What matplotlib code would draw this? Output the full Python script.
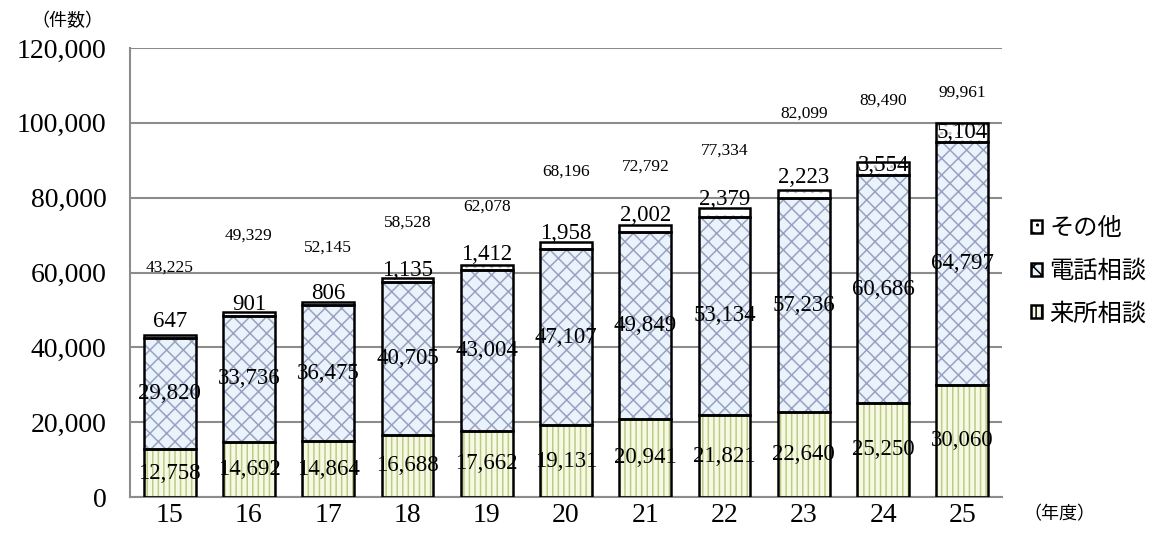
import matplotlib
matplotlib.use('Agg')
import matplotlib.pyplot as plt
from matplotlib.patches import Patch
import numpy as np

plt.rcParams['font.family'] = ['Liberation Serif', 'Noto Sans CJK JP', 'DejaVu Sans']
plt.rcParams['hatch.linewidth'] = 1.1

# データ
years = ['15', '16', '17', '18', '19', '20', '21', '22', '23', '24', '25']
raisho = [12758, 14692, 14864, 16688, 17662, 19131, 20941, 21821, 22640, 25250, 30060]
denwa = [29820, 33736, 36475, 40705, 43004, 47107, 49849, 53134, 57236, 60686, 64797]
sonota = [647, 901, 806, 1135, 1412, 1958, 2002, 2379, 2223, 3554, 5104]
totals = [43225, 49329, 52145, 58528, 62078, 68196, 72792, 77334, 82099, 89490, 99961]
# 合計ラベルの高さ（件数の目盛りで）
total_label_y = [61300, 69900, 66700, 73300, 77600, 86900, 88300, 92500, 102400, 105900, 108000]
# その他ラベルの持ち上げ量(px)
other_lift = [15, 10, 10, 10, 13, 12, 13, 13, 16, 3, 0]

x = np.arange(len(years))
w = 0.655
raisho = np.array(raisho)
denwa = np.array(denwa)
sonota = np.array(sonota)

fig = plt.figure(figsize=(11.57, 5.42), dpi=100)
ax = fig.add_axes([0.1124, 0.083, 0.7536, 0.8284])

# 塗り＋模様
ax.bar(x, raisho, w, color='#f7fae2', edgecolor='#bccb8a', hatch='|||', linewidth=0, zorder=2)
ax.bar(x, denwa, w, bottom=raisho, color='#eaf3fb', edgecolor='#98a2c0', hatch='xx', linewidth=0, zorder=2)
ax.bar(x, sonota, w, bottom=raisho + denwa, color='#ffffff', edgecolor='#b8c4d4', hatch='..', linewidth=0, zorder=2)
# 枠線
for b, h in [(0, raisho), (raisho, denwa), (raisho + denwa, sonota)]:
    ax.bar(x, h, w, bottom=b, facecolor='none', edgecolor='black', linewidth=1.8, zorder=3)

lab = dict(ha='center', va='center', fontsize=16.5, color='black', zorder=4)
for i in range(len(years)):
    ax.text(x[i], raisho[i] / 2, f'{raisho[i]:,}', **lab)
    ax.text(x[i], raisho[i] + denwa[i] / 2, f'{denwa[i]:,}', **lab)
    ax.annotate(f'{sonota[i]:,}', (x[i], raisho[i] + denwa[i] + sonota[i] / 2),
                xytext=(0, other_lift[i] * 0.72), textcoords='offset points', **lab)
    ax.text(x[i], total_label_y[i], f'{totals[i]:,}', ha='center', va='center', fontsize=12.5, zorder=4)

ax.set_xlim(-0.5, len(years) - 0.5)
ax.set_ylim(0, 120000)
ax.set_yticks(np.arange(0, 120001, 20000))
ax.set_yticklabels([f'{v:,}' for v in range(0, 120001, 20000)])
ax.set_xticks(x)
ax.set_xticklabels(years)
ax.tick_params(axis='both', length=0, labelsize=20)
ax.tick_params(axis='y', pad=17)
ax.tick_params(axis='x', pad=4)

ax.yaxis.grid(True, color='#8c8c8c', linewidth=1.5, zorder=0)
ax.set_axisbelow(True)
for s in ['top', 'right']:
    ax.spines[s].set_visible(False)
for s in ['left', 'bottom']:
    ax.spines[s].set_color('#8c8c8c')
    ax.spines[s].set_linewidth(1.5)

fig.text(0.058, 0.962, '（件数）', fontsize=13, ha='center', va='center',
         family=['Noto Sans CJK JP'])
fig.text(0.916, 0.052, '（年度）', fontsize=13, ha='center', va='center',
         family=['Noto Sans CJK JP'])

handles = [
    Patch(facecolor='#ffffff', edgecolor='black', hatch='..', linewidth=1.8),
    Patch(facecolor='#eaf3fb', edgecolor='black', hatch='xx', linewidth=1.8),
    Patch(facecolor='#f7fae2', edgecolor='black', hatch='|||', linewidth=1.8),
]
leg = fig.legend(handles, ['その他', '電話相談', '来所相談'], loc='center left',
                 bbox_to_anchor=(0.872, 0.50), frameon=False, handlelength=0.45,
                 handleheight=0.45, handletextpad=0.3, labelspacing=0.68,
                 prop={'family': ['Noto Sans CJK JP'], 'size': 17.5})

fig.savefig('out.png', dpi=100)
